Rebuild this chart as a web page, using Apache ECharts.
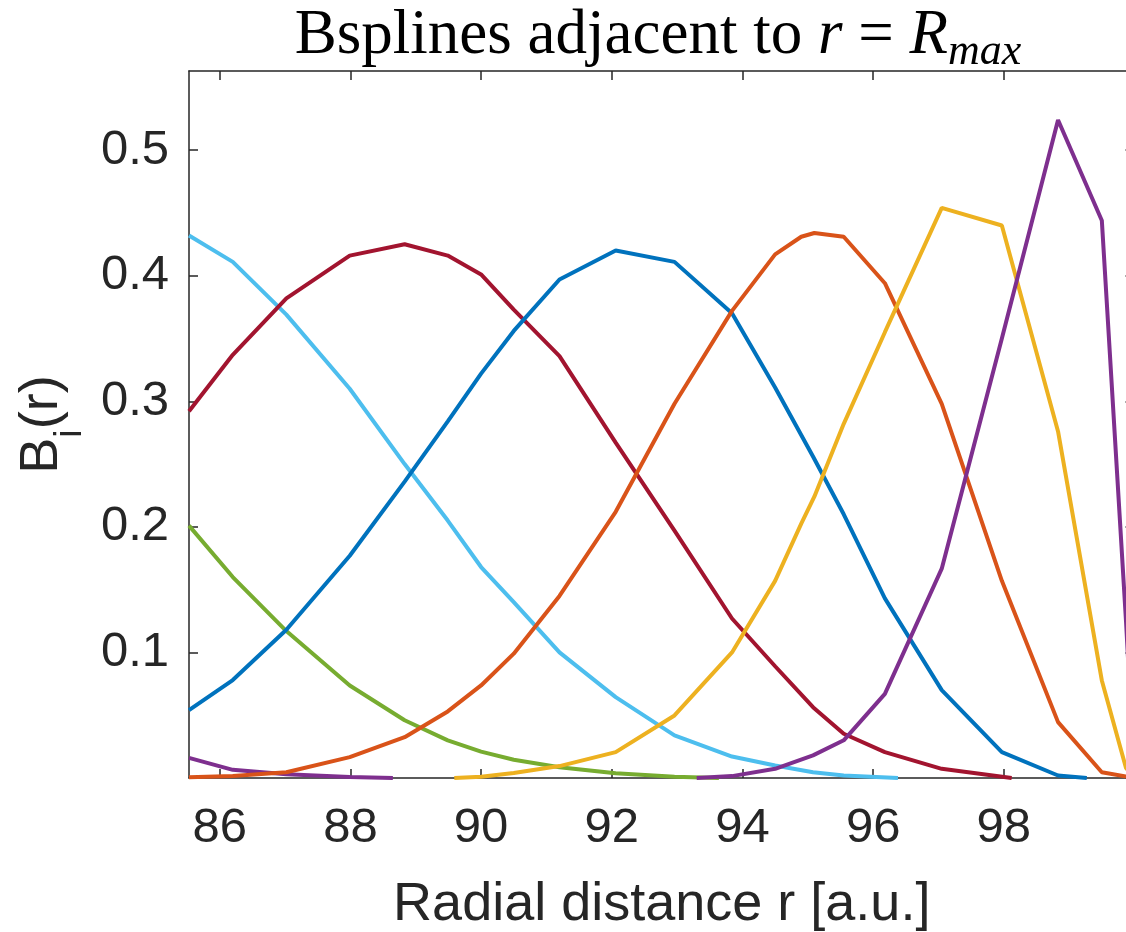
<!DOCTYPE html>
<html>
<head>
<meta charset="utf-8">
<title>Bsplines adjacent to r = Rmax</title>
<script src="https://cdn.jsdelivr.net/npm/echarts@6/dist/echarts.min.js"></script>
<style>
  html, body { margin: 0; padding: 0; background: #fff; }
  #chart { width: 1126px; height: 932px; }
</style>
</head>
<body>
<div id="chart"></div>
<script>
// tick positions
const xTicks = [86, 88, 90, 92, 94, 96, 98]
const yTicks = [0.1, 0.2, 0.3, 0.4, 0.5]
const yTickMarks = [0, 0.1, 0.2, 0.3, 0.4, 0.5]

// each B-spline: radial points r and values B
const rPurpleA = [85.53, 86.2, 87.02, 87.99, 88.65]
const bPurpleA = [0.016, 0.0065, 0.003, 0.0007, 0]

const rGreen = [85.53, 86.2, 87.02, 87.99, 88.83, 89.49, 90.0, 90.5, 91.2, 92.06, 92.96, 93.64]
const bGreen = [0.201, 0.160, 0.117, 0.0737, 0.046, 0.030, 0.021, 0.0145, 0.0086, 0.0038, 0.001, 0]

const rCyan = [85.53, 86.2, 87.02, 87.99, 88.83, 89.49, 90.0, 90.5, 91.2, 92.06, 92.96, 93.84, 94.5, 95.08, 95.55, 96.38]
const bCyan = [0.432, 0.411, 0.369, 0.310, 0.250, 0.205, 0.168, 0.140, 0.100, 0.0644, 0.0339, 0.0171, 0.010, 0.0046, 0.002, 0]

const rRed = [85.53, 86.2, 87.02, 87.99, 88.83, 89.49, 90.0, 90.5, 91.2, 92.06, 92.96, 93.84, 94.5, 95.08, 95.55, 96.18, 97.05, 98.12]
const bRed = [0.292, 0.337, 0.382, 0.416, 0.425, 0.416, 0.401, 0.373, 0.336, 0.267, 0.197, 0.127, 0.089, 0.0564, 0.0352, 0.0206, 0.0073, 0]

const rBlue = [85.53, 86.2, 87.02, 87.99, 88.83, 89.49, 90.0, 90.5, 91.2, 92.06, 92.96, 93.84, 94.5, 95.08, 95.55, 96.18, 97.05, 97.97, 98.83, 99.27]
const bBlue = [0.054, 0.078, 0.118, 0.177, 0.236, 0.284, 0.322, 0.356, 0.397, 0.420, 0.411, 0.370, 0.311, 0.256, 0.210, 0.143, 0.070, 0.0206, 0.002, 0]

const rOrange = [85.53, 86.2, 87.02, 87.99, 88.83, 89.49, 90.0, 90.5, 91.2, 92.06, 92.96, 93.84, 94.5, 94.9, 95.1, 95.55, 96.18, 97.05, 97.97, 98.83, 99.5, 100]
const bOrange = [0.0006, 0.0015, 0.0046, 0.0166, 0.0325, 0.053, 0.0737, 0.099, 0.145, 0.212, 0.298, 0.372, 0.417, 0.431, 0.434, 0.431, 0.394, 0.298, 0.157, 0.0445, 0.0046, 0]

const rYellow = [89.59, 90.0, 90.5, 91.2, 92.06, 92.96, 93.84, 94.5, 94.9, 95.1, 95.55, 96.18, 97.05, 97.97, 98.83, 99.5, 99.87, 100]
const bYellow = [0, 0.001, 0.004, 0.0095, 0.0206, 0.0498, 0.100, 0.157, 0.2025, 0.224, 0.282, 0.355, 0.454, 0.440, 0.276, 0.0777, 0.008, 0]

const rPurpleB = [93.3, 93.84, 94.5, 95.08, 95.55, 96.18, 97.05, 97.97, 98.83, 99.5, 99.87, 100]
const bPurpleB = [0, 0.0015, 0.0073, 0.018, 0.030, 0.067, 0.1667, 0.350, 0.524, 0.444, 0.125, 0]

// plotted left to right, so later splines sit on top
const curves = [
  { r: rPurpleA, b: bPurpleA, color: '#7E2F8E' },
  { r: rGreen, b: bGreen, color: '#77AC30' },
  { r: rCyan, b: bCyan, color: '#4DBEEE' },
  { r: rRed, b: bRed, color: '#A2142F' },
  { r: rBlue, b: bBlue, color: '#0072BD' },
  { r: rOrange, b: bOrange, color: '#D95319' },
  { r: rYellow, b: bYellow, color: '#EDB120' },
  { r: rPurpleB, b: bPurpleB, color: '#7E2F8E' }
]

const axisColor = '#262626'
const sans = '"Liberation Sans", Arial, sans-serif'
const serif = '"Liberation Serif", "Times New Roman", serif'

// top and right edges of the box, ticks only
const frameAxis = (position, ticks) => ({
  type: 'value',
  position: position,
  min: position === 'top' ? 85.53 : 0,
  max: position === 'top' ? 100 : 0.563,
  axisLine: { show: true, onZero: false, lineStyle: { color: axisColor, width: 1.5 } },
  axisTick: { show: true, inside: true, length: 9, customValues: ticks, lineStyle: { color: axisColor, width: 1.5 } },
  axisLabel: { show: false },
  splitLine: { show: false }
})

const chart = echarts.init(document.getElementById('chart'), null, { renderer: 'canvas' })

chart.setOption({
  animation: false,
  backgroundColor: '#fff',
  title: {
    text: '{n|Bsplines adjacent to }{m|r}{n| = }{m|R}{s|max}',
    left: 658,
    top: 0,
    padding: 0,
    textAlign: 'center',
    textStyle: {
      fontWeight: 'normal',
      rich: {
        n: { fontFamily: serif, fontSize: 63, fontWeight: 'normal', color: '#000', lineHeight: 72 },
        m: { fontFamily: serif, fontSize: 63, fontWeight: 'normal', fontStyle: 'italic', color: '#000', lineHeight: 72 },
        s: { fontFamily: serif, fontSize: 44, fontWeight: 'normal', fontStyle: 'italic', color: '#000', lineHeight: 42, verticalAlign: 'top', padding: [30, 0, 0, 0] }
      }
    }
  },
  grid: {
    left: 189,
    top: 71,
    width: 945.5,
    height: 707,
    containLabel: false,
    outerBoundsMode: 'none'
  },
  xAxis: [
    {
      type: 'value',
      position: 'bottom',
      min: 85.53,
      max: 100,
      axisLine: { show: true, onZero: false, lineStyle: { color: axisColor, width: 1.5 } },
      axisTick: { show: true, inside: true, length: 9, customValues: xTicks, lineStyle: { color: axisColor, width: 1.5 } },
      axisLabel: { customValues: xTicks, fontSize: 49, fontFamily: sans, color: axisColor, margin: 26 },
      splitLine: { show: false },
      name: 'Radial distance r [a.u.]',
      nameLocation: 'middle',
      nameGap: 100,
      nameTextStyle: { fontSize: 54, fontFamily: sans, color: axisColor }
    },
    frameAxis('top', xTicks)
  ],
  yAxis: [
    {
      type: 'value',
      position: 'left',
      min: 0,
      max: 0.563,
      axisLine: { show: true, onZero: false, lineStyle: { color: axisColor, width: 1.5 } },
      axisTick: { show: true, inside: true, length: 9, customValues: yTickMarks, lineStyle: { color: axisColor, width: 1.5 } },
      axisLabel: { customValues: yTicks, fontSize: 49, fontFamily: sans, color: axisColor, margin: 20 },
      splitLine: { show: false },
      name: '{a|B}{sub|i}{a|(r)}',
      nameLocation: 'middle',
      nameRotate: 90,
      nameGap: 114,
      nameTextStyle: {
        rich: {
          a: { fontSize: 54, fontFamily: sans, color: axisColor, lineHeight: 60 },
          sub: { fontSize: 38, fontFamily: sans, color: axisColor, lineHeight: 38, verticalAlign: 'top', padding: [40, 0, 0, 0] }
        }
      }
    },
    frameAxis('right', yTickMarks)
  ],
  series: curves.map(c => ({
    type: 'line',
    xAxisIndex: 0,
    yAxisIndex: 0,
    showSymbol: false,
    clip: true,
    lineStyle: { color: c.color, width: 4 },
    itemStyle: { color: c.color },
    data: c.r.map((x, i) => [x, c.b[i]])
  }))
})
</script>
</body>
</html>
